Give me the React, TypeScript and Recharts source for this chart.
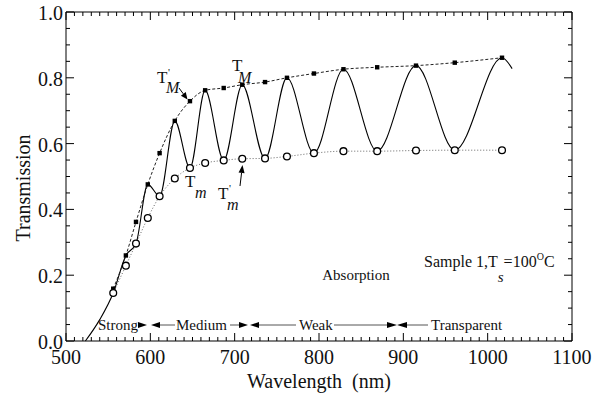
import React from "react";
import { LineChart, Line, XAxis, YAxis, ReferenceArea } from "recharts";

// envelope points (nm) read at the fringe extrema
const envelopeWl = [556, 571, 583, 597, 611, 629, 647, 665, 687, 709, 736, 762, 794, 829, 869, 915, 961, 1017];
const upperT = [0.159, 0.26, 0.362, 0.476, 0.571, 0.669, 0.729, 0.762, 0.769, 0.779, 0.787, 0.8, 0.813, 0.826, 0.832, 0.837, 0.846, 0.861];
const lowerT = [0.146, 0.229, 0.296, 0.374, 0.44, 0.494, 0.526, 0.541, 0.549, 0.554, 0.555, 0.561, 0.571, 0.577, 0.577, 0.579, 0.58, 0.58];

// measured transmission spectrum
const spectrumWl = [523, 540, 556, 571, 583, 597, 611, 629, 647, 665, 687, 709, 736, 762, 794, 829, 869, 915, 961, 1017, 1029];
const spectrumT = [0, 0.065, 0.146, 0.26, 0.296, 0.476, 0.44, 0.669, 0.526, 0.762, 0.549, 0.779, 0.554, 0.8, 0.571, 0.826, 0.577, 0.837, 0.58, 0.861, 0.828];

const xTicks = Array.from({ length: 61 }, (_, i) => 500 + i * 10);
const yTicks = Array.from({ length: 21 }, (_, i) => Math.round(i * 5) / 100);

const upperData = envelopeWl.map((wl, i) => ({ wl, t: upperT[i] }));
const lowerData = envelopeWl.map((wl, i) => ({ wl, t: lowerT[i] }));
const spectrumData = spectrumWl.map((wl, i) => ({ wl, t: spectrumT[i] }));

const W = 607;
const H = 398;
const PLOT = { left: 66, right: 572, top: 12, bottom: 341 };
const FONT = '"Liberation Serif", Tinos, "Times New Roman", Times, "Nimbus Roman", "Nimbus Roman No9 L", FreeSerif, "DejaVu Serif", "Noto Serif", serif';
const INK = "#111";
const txt = { fontFamily: FONT };

function XTick({ x, y, payload }: any) {
  const v = payload.value;
  const major = v % 100 === 0;
  const len = major ? 8 : 4;
  return (
    <g>
      <line x1={x} x2={x} y1={y} y2={y - len} stroke="#000" />
      <line x1={x} x2={x} y1={PLOT.top} y2={PLOT.top + len} stroke="#000" />
      {major && (
        <text x={x} y={y + 23} textAnchor="middle" fontSize={20} fill={INK} style={txt}>
          {v}
        </text>
      )}
    </g>
  );
}

function YTick({ x, y, payload }: any) {
  const v = payload.value;
  const major = Math.abs(v * 5 - Math.round(v * 5)) < 1e-6;
  const len = major ? 8 : 4;
  return (
    <g>
      <line x1={x} x2={x + len} y1={y} y2={y} stroke="#000" />
      <line x1={PLOT.right} x2={PLOT.right - len} y1={y} y2={y} stroke="#000" />
      {major && (
        <text x={x - 3} y={y + 8} textAnchor="end" fontSize={20} fill={INK} style={txt}>
          {v.toFixed(1)}
        </text>
      )}
    </g>
  );
}

const squareDot = (p: any) => (
  <rect key={`sq-${p.index}`} x={p.cx - 2.2} y={p.cy - 2.2} width={4.4} height={4.4} fill="#000" />
);
const circleDot = (p: any) => (
  <circle key={`ci-${p.index}`} cx={p.cx} cy={p.cy} r={3.4} fill="#fff" stroke="#000" strokeWidth={1.3} />
);

function Arrow({ x1, y1, x2, y2, head = 8, w = 3, color = "#000" }: any) {
  const dx = x2 - x1;
  const dy = y2 - y1;
  const L = Math.hypot(dx, dy);
  const ux = dx / L;
  const uy = dy / L;
  const bx = x2 - ux * head;
  const by = y2 - uy * head;
  const pts = `${x2},${y2} ${bx - uy * w},${by + ux * w} ${bx + uy * w},${by - ux * w}`;
  return (
    <g>
      {L > head && <line x1={x1} y1={y1} x2={bx} y2={by} stroke={color} strokeWidth={1} />}
      <polygon points={pts} fill="#000" />
    </g>
  );
}

function Annotations() {
  const by = 325;
  return (
    <svg width={W} height={H} style={{ position: "absolute", left: 0, top: 0, pointerEvents: "none", fontFamily: FONT }}
      fill={INK}>
      <text transform="translate(30,188) rotate(-90)" textAnchor="middle" fontSize={20} style={txt}>Transmission</text>
      <text x={319} y={388} textAnchor="middle" fontSize={20} style={{ ...txt, whiteSpace: "pre" }}>Wavelength  (nm)</text>

      {/* T'M */}
      <text x={157} y={83} fontSize={17} style={txt}>T</text>
      <text x={168} y={76} fontSize={11} style={txt}>'</text>
      <text x={166} y={93} fontSize={16} fontStyle="italic" style={txt}>M</text>
      <Arrow x1={179} y1={88} x2={187.5} y2={99.5} head={7} w={3} />

      {/* TM */}
      <text x={232} y={71} fontSize={17} style={txt}>T</text>
      <text x={238} y={83} fontSize={16} fontStyle="italic" style={txt}>M</text>

      {/* Tm */}
      <text x={185} y={187} fontSize={17} style={txt}>T</text>
      <text x={195} y={198} fontSize={16} fontStyle="italic" style={txt}>m</text>

      {/* T'm */}
      <text x={218} y={199} fontSize={17} style={txt}>T</text>
      <text x={229} y={192} fontSize={11} style={txt}>'</text>
      <text x={227} y={210} fontSize={16} fontStyle="italic" style={txt}>m</text>
      <Arrow x1={240} y1={186} x2={242.5} y2={165} head={8} w={3} />

      <text x={424} y={267} fontSize={16} style={txt}>
        Sample 1,T
        <tspan dy={15} fontSize={15} fontStyle="italic">s</tspan>
        <tspan dy={-15}>=100</tspan>
        <tspan dy={-7} fontSize={10}>O</tspan>
        <tspan dy={7}>C</tspan>
      </text>

      <text x={356} y={280} textAnchor="middle" fontSize={15} style={txt}>Absorption</text>

      {/* absorption regimes */}
      <text x={98} y={330} fontSize={15} style={txt}>Strong</text>
      <Arrow x1={138} y1={by} x2={147} y2={by} head={9} w={3} />
      <Arrow x1={175} y1={by} x2={151} y2={by} head={9} w={3} color="#555" />
      <text x={176} y={330} fontSize={15} style={txt}>Medium</text>
      <Arrow x1={230} y1={by} x2={248} y2={by} head={9} w={3} color="#555" />
      <Arrow x1={296} y1={by} x2={250} y2={by} head={9} w={3} color="#555" />
      <text x={299} y={330} fontSize={15} style={txt}>Weak</text>
      <Arrow x1={334} y1={by} x2={397} y2={by} head={10} w={3} color="#555" />
      <Arrow x1={428} y1={by} x2={397} y2={by} head={10} w={3} color="#555" />
      <text x={431} y={330} fontSize={15} style={txt}>Transparent</text>
    </svg>
  );
}

export default function App() {
  return (
    <div style={{ position: "absolute", left: 0, top: 0, width: W, height: H, background: "#fff", fontFamily: FONT }}>
      <LineChart width={W} height={H} margin={{ top: PLOT.top, right: W - PLOT.right, bottom: 0, left: 0 }}>
        <XAxis
          dataKey="wl" type="number" domain={[500, 1100]} ticks={xTicks} interval={0}
          height={H - PLOT.bottom} tickSize={0} tickMargin={0} axisLine={false} tickLine={false}
          tick={XTick}
        />
        <YAxis
          type="number" domain={[0, 1]} ticks={yTicks} interval={0}
          width={PLOT.left} tickSize={0} tickMargin={0} axisLine={false} tickLine={false}
          tick={YTick}
        />
        <ReferenceArea x1={500} x2={1100} y1={0} y2={1} fill="none" fillOpacity={0} stroke="#000" strokeWidth={1} />
        <Line
          data={spectrumData} dataKey="t" type="monotone" stroke="#000" strokeWidth={1.1}
          dot={false} activeDot={false} isAnimationActive={false}
        />
        <Line
          data={upperData} dataKey="t" type="monotone" stroke="#222" strokeWidth={1}
          strokeDasharray="3 2" dot={squareDot} activeDot={false} isAnimationActive={false}
        />
        <Line
          data={lowerData} dataKey="t" type="monotone" stroke="#666" strokeWidth={1}
          strokeDasharray="1 2" dot={circleDot} activeDot={false} isAnimationActive={false}
        />
      </LineChart>
      <Annotations />
    </div>
  );
}
